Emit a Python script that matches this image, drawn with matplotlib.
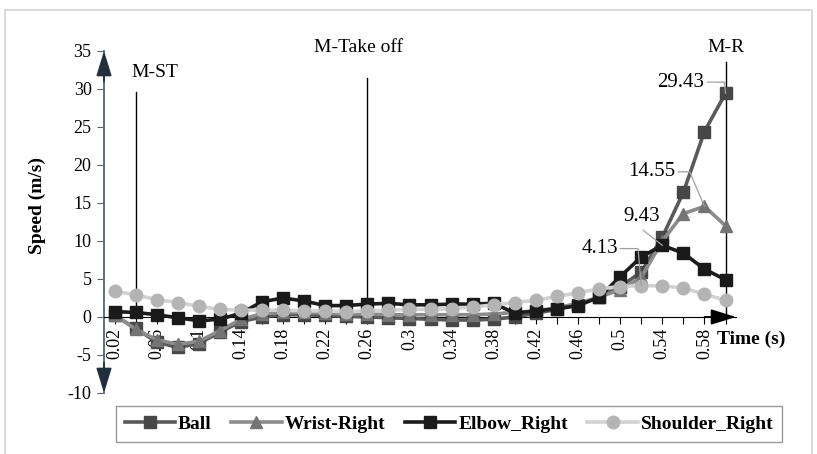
import matplotlib
matplotlib.use("Agg")
import matplotlib.pyplot as plt
from matplotlib.patches import Rectangle
import numpy as np

plt.rcParams['font.family'] = ['Liberation Serif', 'DejaVu Serif']
plt.rcParams['axes.unicode_minus'] = False

# time points (s), 0.02 .. 0.60
time_s = [0.02, 0.04, 0.06, 0.08, 0.10, 0.12, 0.14, 0.16, 0.18, 0.20,
          0.22, 0.24, 0.26, 0.28, 0.30, 0.32, 0.34, 0.36, 0.38, 0.40,
          0.42, 0.44, 0.46, 0.48, 0.50, 0.52, 0.54, 0.56, 0.58, 0.60]

ball = [0.2, -1.5, -3.3, -4.0, -3.5, -2.0, -0.6, 0.0, 0.3, 0.3,
        0.2, 0.1, 0.0, -0.1, -0.2, -0.3, -0.4, -0.4, -0.3, 0.0,
        0.5, 1.0, 1.6, 2.6, 4.0, 5.9, 10.5, 16.4, 24.4, 29.43]
wrist = [0.3, -1.6, -3.0, -3.6, -3.2, -1.8, -0.3, 0.4, 0.6, 0.6,
         0.5, 0.4, 0.4, 0.3, 0.3, 0.3, 0.3, 0.3, 0.4, 0.6,
         0.8, 1.2, 1.8, 2.6, 3.6, 5.2, 10.0, 13.6, 14.55, 12.0]
elbow = [0.7, 0.6, 0.3, -0.1, -0.5, -0.3, 0.5, 2.0, 2.5, 2.1,
         1.5, 1.5, 1.7, 1.8, 1.6, 1.6, 1.7, 1.7, 1.8, 0.5,
         0.8, 1.1, 1.5, 2.6, 5.3, 7.9, 9.43, 8.4, 6.3, 4.9]
shoulder = [3.4, 2.9, 2.3, 1.9, 1.4, 1.0, 0.9, 0.9, 0.9, 0.8,
            0.8, 0.7, 0.8, 0.9, 1.0, 1.0, 1.1, 1.3, 1.6, 1.9,
            2.2, 2.7, 3.2, 3.7, 4.0, 4.13, 4.1, 3.8, 3.0, 2.2]

# phase markers: (label, time)
phases = [("M-ST", 0.04), ("M-Take off", 0.26), ("M-R", 0.60)]

x = np.arange(len(time_s))

fig = plt.figure(figsize=(8.17, 4.54), dpi=100)
ax = fig.add_axes([0.1273, 0.1344, 0.7736, 0.7533])

# outer chart frame
fig.add_artist(Rectangle((5 / 817, -0.05), 807 / 817, 1 - 10 / 454 + 0.05,
                         transform=fig.transFigure, fill=False,
                         ec='#d4d4d4', lw=1.2))

series = [
    ("Ball", ball, '#5a5a5a', 's', '#474747', 8.5),
    ("Wrist-Right", wrist, '#8c8c8c', '^', '#747474', 9),
    ("Elbow_Right", elbow, '#1c1c1c', 's', '#1a1a1a', 9),
    ("Shoulder_Right", shoulder, '#d2d2d2', 'o', '#b4b4b4', 9),
]
for name, vals, lc, mk, mc, ms in series:
    ax.plot(x, vals, color=lc, lw=2.6, marker=mk, ms=ms, mfc=mc,
            mec=mc, label=name, zorder=3)

ax.set_xlim(-0.5, 29.5)
ax.set_ylim(-10, 35)

for sp in ['top', 'right']:
    ax.spines[sp].set_visible(False)
ax.spines['bottom'].set_position(('data', 0))
ax.spines['bottom'].set_color('black')
ax.spines['left'].set_color('#5c6670')
ax.spines['left'].set_linewidth(1.3)

ax.set_xticks(x)
ax.set_xticklabels([f"{t:g}" if i % 2 == 0 else "" for i, t in enumerate(time_s)])
ax.tick_params(axis='x', direction='out', length=5, rotation=90,
               labelsize=13, pad=3)
ax.set_yticks(range(-10, 36, 5))
ax.tick_params(axis='y', direction='out', length=5, labelsize=13,
               color='#5c6670', pad=4)

# axis arrows
arr = dict(arrowstyle='-|>,head_length=1.1,head_width=0.34', color='#22303d',
           lw=1.3, shrinkA=0, shrinkB=0, mutation_scale=14)
ax.annotate('', xy=(-0.5, 35), xytext=(-0.5, 31), arrowprops=arr,
            annotation_clip=False)
ax.annotate('', xy=(-0.5, -10), xytext=(-0.5, -6), arrowprops=arr,
            annotation_clip=False)
arr_x = dict(arr, color='black')
ax.annotate('', xy=(29.5, 0), xytext=(28, 0), arrowprops=arr_x,
            annotation_clip=False)

# phase lines
tops = [29.6, 31.5, 33.5]
for (lab, t), top in zip(phases, tops):
    i = time_s.index(t)
    ax.plot([i, i], [0, top], color='black', lw=1, zorder=2)
ax.text(0.8, 32.2, "M-ST", fontsize=14, ha='left', va='center')
ax.text(11.6, 35.4, "M-Take off", fontsize=14, ha='center', va='center')
ax.text(29.0, 35.5, "M-R", fontsize=14, ha='center', va='center')

# data labels with leader lines
lead = dict(color='#a0a0a0', lw=0.9, zorder=4)
ax.text(28.0, 30.9, "29.43", fontsize=15, ha='right', va='center')
ax.plot([28.15, 28.95, 29], [30.9, 30.9, ball[29]], **lead)
ax.text(26.6, 19.1, "14.55", fontsize=15, ha='right', va='center')
ax.plot([26.75, 27.3, 28], [19.1, 19.1, wrist[28]], **lead)
ax.text(25.0, 13.2, "9.43", fontsize=15, ha='center', va='center')
ax.plot([25.1, 26], [11.4, elbow[26]], **lead)
ax.text(23.9, 9.0, "4.13", fontsize=15, ha='right', va='center')
ax.plot([24.0, 24.85, 25], [9.0, 9.0, shoulder[25]], **lead)

ax.text(28.6, -3.0, "Time (s)", fontsize=14, fontweight='bold',
        ha='left', va='center')
fig.text(37 / 817, 1 - 206 / 454, "Speed (m/s)", fontsize=14,
         fontweight='bold', rotation=90, ha='center', va='center')

leg = fig.legend(loc='center', bbox_to_anchor=(0.5495, 0.066), ncol=4,
                 frameon=True, fancybox=False, handlelength=2.6,
                 handletextpad=0.15, columnspacing=1.0,
                 prop={'weight': 'bold', 'size': 14}, borderpad=0.45)
leg.get_frame().set_edgecolor('#7f7f7f')
leg.get_frame().set_linewidth(1.0)

fig.savefig('out.png', dpi=100)
